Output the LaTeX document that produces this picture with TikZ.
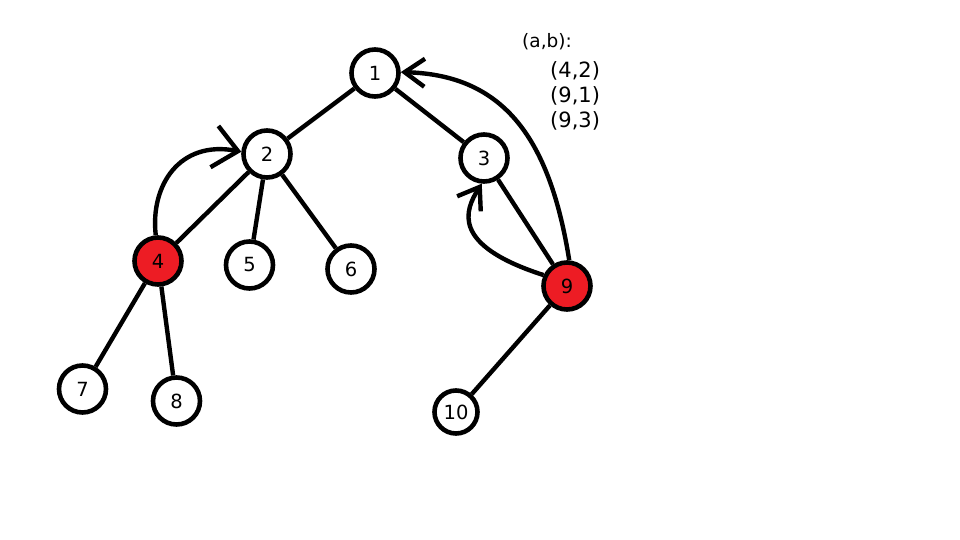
\documentclass[tikz,border=0pt]{standalone}
\usepackage{fontspec}
\setmainfont{DejaVu Sans}
\usetikzlibrary{arrows.meta}
\definecolor{paintred}{HTML}{ED1C24}
\begin{document}
\begin{tikzpicture}[x=1pt,y=-1pt,
  vert/.style={circle,draw=black,line width=4.6pt,fill=white,minimum size=47pt,inner sep=0pt,font=\fontsize{19.5}{22}\selectfont},
  redvert/.style={vert,fill=paintred},
  edge/.style={line width=4.4pt},
  bigbarb/.style={line width=4.4pt,-{Straight Barb[length=24pt,width=42pt,line width=4.4pt]}},
  smallbarb/.style={line width=4.4pt,-{Straight Barb[length=20pt,width=28pt,line width=4.4pt]}},
  lbl/.style={anchor=west,inner sep=0pt}
]
\useasboundingbox (0,0) rectangle (960,540);
\fill[white] (0,0) rectangle (960,540);
\node[vert] (n1) at (375,73) {1};
\node[vert] (n2) at (267,154) {2};
\node[vert] (n3) at (484,158) {3};
\node[redvert] (n4) at (158,261) {4};
\node[vert] (n5) at (249.5,265) {5};
\node[vert] (n6) at (351,269) {6};
\node[vert] (n7) at (82.5,389) {7};
\node[vert] (n8) at (176.5,401) {8};
\node[redvert] (n9) at (567,286) {9};
\node[vert,minimum size=43pt] (n10) at (456,412) {10};
\draw[edge] (n1) -- (n2);
\draw[edge] (n1) -- (n3);
\draw[edge] (n2) -- (n4);
\draw[edge] (n2) -- (n5);
\draw[edge] (n2) -- (n6);
\draw[edge] (n4) -- (n7);
\draw[edge] (n4) -- (n8);
\draw[edge] (n3) -- (n9);
\draw[edge] (n9) -- (n10);
\draw[bigbarb] (n4.95) .. controls (150,185) and (180,140) .. (n2.175);
\draw[smallbarb] (n9.85) .. controls (550,140) and (505,75) .. (n1.2);
\draw[smallbarb] (n9.155) .. controls (450,245) and (465,210) .. (n3.265);
\node[lbl,font=\fontsize{18.5}{22}\selectfont] (hdr) at (522,42) {(a,b):};
\node[lbl,font=\fontsize{21}{24}\selectfont] (p1) at (550,71) {(4,2)};
\node[lbl,font=\fontsize{21}{24}\selectfont] (p2) at (550,96) {(9,1)};
\node[lbl,font=\fontsize{21}{24}\selectfont] (p3) at (550,121) {(9,3)};
\end{tikzpicture}
\end{document}
